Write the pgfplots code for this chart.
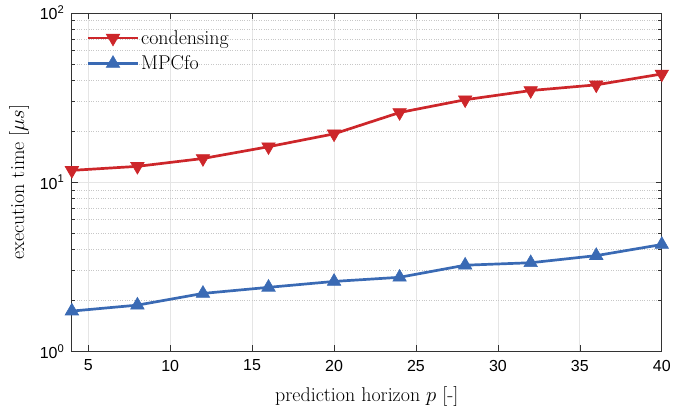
\documentclass[border=0pt]{standalone}
\usepackage{fontspec}
\usepackage{pgfplots}
\pgfplotsset{compat=1.18}
\newfontfamily\ticksf{Liberation Sans}
\definecolor{cred}{RGB}{205,38,42}
\definecolor{cblue}{RGB}{58,106,180}
\begin{document}
\begin{tikzpicture}
\begin{semilogyaxis}[
  scale only axis,
  width=591pt, height=339pt,
  xmin=4, xmax=40, ymin=1, ymax=100,
  xtick={5,10,15,20,25,30,35,40},
  xticklabels={5,10,15,20,25,30,35,40},
  ytick={1,10,100},
  yticklabels={10\textsuperscript{0},10\textsuperscript{1},10\textsuperscript{2}},
  ticklabel style={font=\fontsize{16}{18}\selectfont\ticksf},
  xticklabel style={yshift=-5pt},
  yticklabel style={xshift=-4pt},
  tick align=inside,
  major tick length=6pt, minor tick length=3.5pt,
  tick style={black!80, line width=0.6pt},
  axis line style={black!80, line width=0.8pt},
  xmajorgrids, ymajorgrids, yminorgrids,
  major grid style={black!10, line width=0.8pt},
  minor grid style={black!22, dotted, line width=0.5pt},
  xlabel={prediction horizon $p$ [-]},
  ylabel={execution time [$\mu s$]},
  label style={font=\fontsize{20}{24}\selectfont},
  xlabel style={yshift=-9pt},
  ylabel style={yshift=4pt},
  legend style={draw=none, fill=none, at={(0.025,0.955)}, anchor=north west,
    font=\fontsize{20}{24}\selectfont, row sep=6pt, inner sep=0pt},
  legend cell align=left,
  legend image code/.code={
    \draw[#1, mark=none, line width=2.7pt] (0cm,0cm) -- (1.75cm,0cm);
    \draw[#1, only marks] plot coordinates {(0.875cm,0cm)};
  },
]
\addplot[cred, line width=2.7pt, mark=triangle*, mark size=7.8pt,
  mark options={rotate=180, solid, line width=0.6pt}]
  coordinates {(4,11.74) (8,12.4) (12,13.8) (16,16.2) (20,19.3) (24,25.8) (28,30.7) (32,34.8) (36,37.6) (40,43.6)};
\addlegendentry{condensing}
\addplot[cblue, line width=2.7pt, mark=triangle*, mark size=7.8pt,
  mark options={solid, line width=0.6pt}]
  coordinates {(4,1.73) (8,1.876) (12,2.20) (16,2.39) (20,2.59) (24,2.74) (28,3.23) (32,3.34) (36,3.68) (40,4.28)};
\addlegendentry{MPCfo}
\end{semilogyaxis}
\path (current axis.south west) ++(-72pt,-65pt);
\path (current axis.north east) ++(11pt,13pt);
\end{tikzpicture}
\end{document}
